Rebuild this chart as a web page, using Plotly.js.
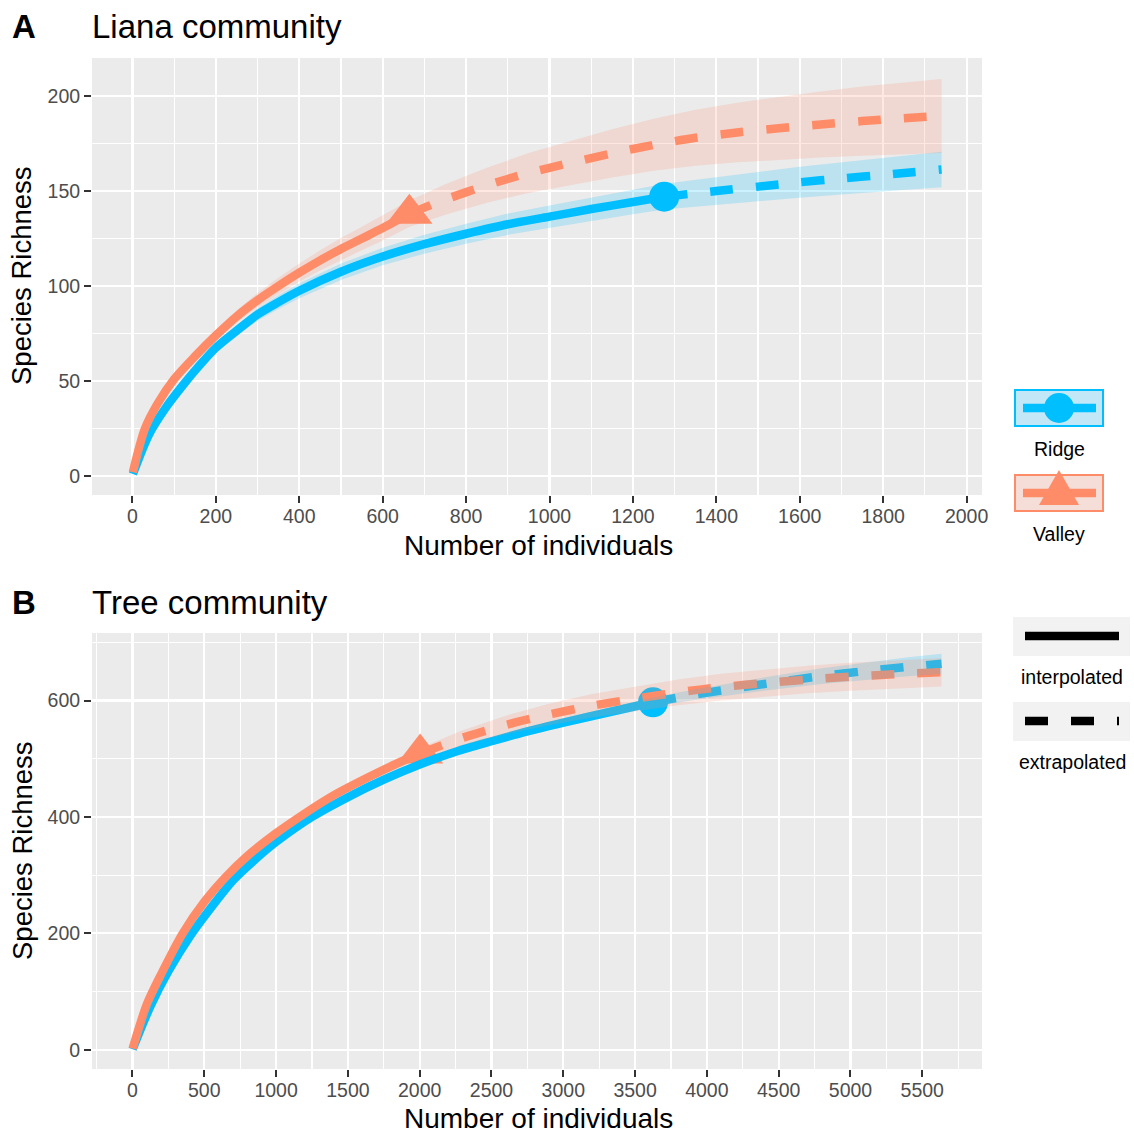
<!DOCTYPE html>
<html><head><meta charset="utf-8">
<script src="https://cdn.plot.ly/plotly-3.0.1.min.js"></script>
<style>html,body{margin:0;padding:0;background:#fff}</style>
</head><body><div id="chart" style="width:1134px;height:1132px"></div>
<script>
// ---------- Panel A: Liana community ----------
const lianaRidgeN  = [1,40,80,120,160,200,250,300,350,400,500,600,700,800,900,1000,1100,1200,1275,1400,1500,1600,1700,1800,1940];
const lianaRidgeS  = [1,22,36,47.5,58,67.5,76.5,85,91.5,97.5,107.5,115.5,122,127.5,132.5,136.5,140.5,144.2,147,150,152.3,154.6,156.6,158.5,161.3];
const lianaRidgeLo = [1,21,34.5,45.5,55.7,64.9,73.5,81.7,87.9,93.6,103.2,110.9,117,122.2,126.9,130.6,134.3,137.7,140.2,142.7,144.6,146.5,148.1,149.6,152];
const lianaRidgeHi = [1,23,37.5,49.5,60.3,70.1,79.5,88.3,95.1,101.4,111.8,120.1,127,132.8,138.1,142.4,146.7,150.7,153.8,157.3,160,162.7,165.1,167.4,170.6];
const lianaRidgeObs = [1275, 147];

const lianaValleyN  = [1,30,60,100,150,200,250,300,350,400,450,500,550,600,664,750,850,950,1050,1150,1250,1350,1450,1550,1650,1750,1850,1940];
const lianaValleyS  = [2,25,38,51,63,74,84,92.5,100,107,113.5,119.5,125,130.5,138,145.5,153,159.5,164.8,169.8,174.3,178,180.8,183,185,186.8,188.3,189.5];
const lianaValleyLo = [2,24.2,36.8,49.4,60.8,71.2,80.7,88.7,95.7,102.2,108.2,113.7,118.8,123.9,131,137.5,143.8,149,153.2,157.1,160.6,163.3,165.1,166.4,167.6,168.6,169.4,170];
const lianaValleyHi = [2,25.8,39.2,52.6,65.2,76.8,87.3,96.3,104.3,111.8,118.8,125.3,131.2,137.1,145,153.5,162.2,170,176.4,182.5,188,192.7,196.5,199.6,202.4,205,207.2,209];
const lianaValleyObs = [664, 138];

// ---------- Panel B: Tree community ----------
const treeRidgeN  = [1,125,250,400,550,700,850,1000,1250,1500,1750,2000,2250,2500,2750,3000,3300,3625,3900,4200,4500,4800,5100,5400,5634];
const treeRidgeS  = [1,75,135,195,245,291,326,357,400,434,464,490,512,530,547,562,579,597,609.5,621,632,642,650.5,658,663];
const treeRidgeLo = [1,73,132,191.5,241,286.7,321.4,352,394.7,428.4,458.1,483.8,505.5,523.2,539.9,554.6,571.3,589,600.5,610.5,620,628.5,635.5,641.5,645.5];
const treeRidgeHi = [1,77,138,198.5,249,295.3,330.6,362,405.3,439.6,469.9,496.2,518.5,536.8,554.1,569.4,586.7,605,618.5,631.5,644,655.5,665.5,674.5,680.5];
const treeRidgeObs = [3625, 597];

const treeValleyN  = [1,100,200,350,500,650,800,1000,1200,1400,1600,1800,2003,2300,2600,2900,3200,3500,3800,4100,4400,4700,5000,5300,5634];
const treeValleyS  = [2,78,130,200,254,297,333,372,406,437,463,487,509,536,558,576,591,603,614,623,630,636,641,645,648.5];
const treeValleyLo = [2,76,127,196,249.5,292,327.5,366,399.5,430,455.5,478.5,499.5,523,542,557.5,570.7,581.6,591.8,600.2,606.7,612.3,616.9,620.6,623.9];
const treeValleyHi = [2,80,133,204,258.5,302,338.5,378,412.5,444,470.5,495.5,518.5,549,574,594.5,611.3,624.4,636.2,645.8,653.3,659.7,665.1,669.4,673.1];
const treeValleyObs = [2003, 509];

const sites = ["Ridge", "Valley"];
const methods = ["interpolated", "extrapolated"];
const panelTitles = ["Liana community", "Tree community"];
const panelLetters = ["A", "B"];
const xTitle = "Number of individuals";
const yTitle = "Species Richness";

// ---------- styling ----------
const W = 1134, H = 1132;
const FONT = "Liberation Sans, Arial, Helvetica, sans-serif";
const RIDGE = "#00BFFF", VALLEY = "#FF8C69";
const RIDGE_F = "rgba(0,191,255,0.2)", VALLEY_F = "rgba(255,140,105,0.2)";
const LW = 8.5, DASH = "23px,23px";
const px = v => v / W, py = v => 1 - v / H;

function seriesTraces(N, S, Lo, Hi, obs, color, fill, sym, msize, xa, ya) {
  const iN = [], iS = [], eN = [], eS = [];
  N.forEach((n, k) => {
    if (n <= obs[0]) { iN.push(n); iS.push(S[k]); }
    if (n >= obs[0]) { eN.push(n); eS.push(S[k]); }
  });
  return {
    point: {x: [obs[0]], y: [obs[1]], xaxis: xa, yaxis: ya, mode: "markers", type: "scatter",
            marker: {symbol: sym, size: msize, color: color, line: {width: 0}}, hoverinfo: "skip"},
    interp: {x: iN, y: iS, xaxis: xa, yaxis: ya, mode: "lines", type: "scatter",
             line: {color: color, width: LW, shape: "spline", smoothing: 0.8}, hoverinfo: "skip"},
    extrap: {x: eN, y: eS, xaxis: xa, yaxis: ya, mode: "lines", type: "scatter",
             line: {color: color, width: LW, dash: DASH, shape: "spline", smoothing: 0.8}, hoverinfo: "skip"},
    band: {x: N.concat(N.slice().reverse()), y: Lo.concat(Hi.slice().reverse()), xaxis: xa, yaxis: ya,
           mode: "lines", type: "scatter", fill: "toself", fillcolor: fill, line: {width: 0, color: "rgba(0,0,0,0)"},
           hoverinfo: "skip"}
  };
}

function panel(r, v) {
  return [r.point, v.point, r.interp, v.interp, r.extrap, v.extrap, r.band, v.band];
}

const aR = seriesTraces(lianaRidgeN, lianaRidgeS, lianaRidgeLo, lianaRidgeHi, lianaRidgeObs, RIDGE, RIDGE_F, "circle", 30, "x", "y");
const aV = seriesTraces(lianaValleyN, lianaValleyS, lianaValleyLo, lianaValleyHi, lianaValleyObs, VALLEY, VALLEY_F, "triangle-up", 40, "x", "y");
const bR = seriesTraces(treeRidgeN, treeRidgeS, treeRidgeLo, treeRidgeHi, treeRidgeObs, RIDGE, RIDGE_F, "circle", 30, "x2", "y2");
const bV = seriesTraces(treeValleyN, treeValleyS, treeValleyLo, treeValleyHi, treeValleyObs, VALLEY, VALLEY_F, "triangle-up", 40, "x2", "y2");

const data = panel(aR, aV).concat(panel(bR, bV));
data.forEach(t => t.showlegend = false);

function axisBase(range, dtick, minor, anchor) {
  return {range: range, anchor: anchor, dtick: dtick, tick0: 0,
    showgrid: true, gridcolor: "#FFFFFF", gridwidth: 2.1, zeroline: false, showline: false,
    ticks: "outside", ticklen: 7, tickwidth: 2, tickcolor: "#333333",
    tickfont: {family: FONT, size: 19.5, color: "#4D4D4D"},
    minor: {dtick: minor, tick0: 0, showgrid: true, gridcolor: "#FFFFFF", gridwidth: 1.1, ticks: ""},
    fixedrange: true};
}
function xAxis(range, dtick, minor, anchor) {
  return Object.assign(axisBase(range, dtick, minor, anchor), {domain: [px(92), px(982)], ticklabelstandoff: -3});
}
function yAxis(range, dtick, minor, dom, anchor) {
  return Object.assign(axisBase(range, dtick, minor, anchor), {domain: dom});
}

const ann = [];
function text(t, x, y, size, opts) {
  ann.push(Object.assign({text: t, x: px(x), y: py(y), xref: "paper", yref: "paper", showarrow: false,
    xanchor: "center", yanchor: "middle", font: {family: FONT, size: size, color: "#000000"}}, opts || {}));
}
// panel letters & titles
text("<b>" + panelLetters[0] + "</b>", 24, 26, 33);
text(panelTitles[0], 90, 26, 33, {xanchor: "left"});
text("<b>" + panelLetters[1] + "</b>", 24, 602, 33);
text(panelTitles[1], 90, 602, 33, {xanchor: "left"});
// axis titles
text(xTitle, 538, 545, 28, {height: 24});
text(xTitle, 538, 1118, 28, {height: 24});
text(yTitle, 22, 276, 27.5, {textangle: -90});
text(yTitle, 22, 851, 27.5, {textangle: -90});
// legend labels
text(sites[0], 1059, 449, 19.5);
text(sites[1], 1059, 534, 19.5);
text(methods[0], 1072, 677, 19.5);
text(methods[1], 1072, 762, 19.5);

const shapes = [
  // Ridge key
  {type: "rect", xref: "paper", yref: "paper", x0: px(1015), x1: px(1103), y0: py(390), y1: py(426),
   fillcolor: "#C2E8F8", line: {color: RIDGE, width: 2}},
  {type: "line", xref: "paper", yref: "paper", x0: px(1023), x1: px(1096), y0: py(408), y1: py(408),
   line: {color: RIDGE, width: LW}},
  {type: "circle", xref: "paper", yref: "paper", x0: px(1044), x1: px(1074), y0: py(393), y1: py(423),
   fillcolor: RIDGE, line: {width: 0}},
  // Valley key
  {type: "rect", xref: "paper", yref: "paper", x0: px(1015), x1: px(1103), y0: py(475), y1: py(511),
   fillcolor: "#F5DED7", line: {color: VALLEY, width: 2}},
  {type: "line", xref: "paper", yref: "paper", x0: px(1023), x1: px(1096), y0: py(493), y1: py(493),
   line: {color: VALLEY, width: LW}},
  {type: "path", xref: "paper", yref: "paper",
   path: "M " + px(1059) + "," + py(470) + " L " + px(1079) + "," + py(505) + " L " + px(1039) + "," + py(505) + " Z",
   fillcolor: VALLEY, line: {width: 0}},
  // interpolated key
  {type: "rect", xref: "paper", yref: "paper", x0: px(1013), x1: px(1130), y0: py(617), y1: py(656),
   fillcolor: "#F2F2F2", line: {width: 0}},
  {type: "line", xref: "paper", yref: "paper", x0: px(1025), x1: px(1119), y0: py(636), y1: py(636),
   line: {color: "#000000", width: LW}},
  // extrapolated key
  {type: "rect", xref: "paper", yref: "paper", x0: px(1013), x1: px(1130), y0: py(702), y1: py(741),
   fillcolor: "#F2F2F2", line: {width: 0}},
  {type: "line", xref: "paper", yref: "paper", x0: px(1025), x1: px(1119), y0: py(721), y1: py(721),
   line: {color: "#000000", width: LW, dash: DASH}}
];

const layout = {
  width: W, height: H, margin: {l: 0, r: 0, t: 0, b: 0, pad: 0},
  paper_bgcolor: "#FFFFFF", plot_bgcolor: "#EBEBEB", showlegend: false,
  font: {family: FONT},
  xaxis: xAxis([-97, 2037], 200, 100, "y"),
  yaxis: yAxis([-10, 220], 50, 25, [py(495), py(58)], "x"),
  xaxis2: xAxis([-282, 5916], 500, 250, "y2"),
  yaxis2: yAxis([-33, 716], 200, 100, [py(1069), py(633)], "x2"),
  annotations: ann, shapes: shapes
};

Plotly.newPlot("chart", data, layout, {staticPlot: true, displayModeBar: false});
</script></body></html>
